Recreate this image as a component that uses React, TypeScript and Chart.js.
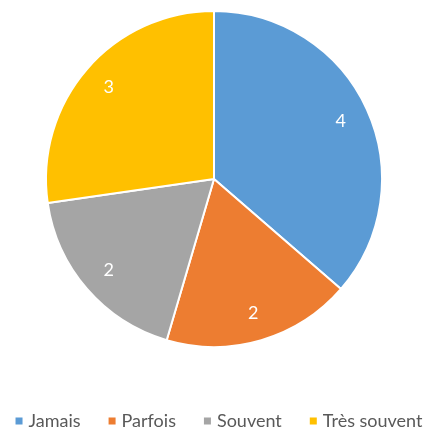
import React, { useEffect, useRef } from "react";
import { Chart, registerables } from "chart.js";

Chart.register(...registerables);

const categories = ["Jamais", "Parfois", "Souvent", "Très souvent"];
const values = [4, 2, 2, 3];
const colors = ["#5B9BD5", "#ED7D31", "#A5A5A5", "#FFC000"];

const FONT = "Lato, 'Open Sans', sans-serif";

const sliceLabels = {
  id: "sliceLabels",
  afterDatasetsDraw(chart: any) {
    const ctx = chart.ctx;
    const meta = chart.getDatasetMeta(0);
    ctx.save();
    ctx.fillStyle = "#ffffff";
    ctx.font = `18px ${FONT}`;
    ctx.textAlign = "center";
    ctx.textBaseline = "middle";
    meta.data.forEach((arc: any, i: number) => {
      const { x, y, startAngle, endAngle, outerRadius } = arc.getProps(
        ["x", "y", "startAngle", "endAngle", "outerRadius"],
        true
      );
      const mid = (startAngle + endAngle) / 2;
      const r = outerRadius * 0.83;
      ctx.fillText(String(chart.data.datasets[0].data[i]), x + Math.cos(mid) * r, y + Math.sin(mid) * r);
    });
    ctx.restore();
  },
};

const bottomLegend = {
  id: "bottomLegend",
  afterDraw(chart: any) {
    const ctx = chart.ctx;
    const labels: string[] = chart.data.labels;
    const bg: string[] = chart.data.datasets[0].backgroundColor;
    ctx.save();
    ctx.font = `18px ${FONT}`;
    ctx.textBaseline = "middle";
    const box = 7;
    const gap = 6;
    const spacing = 28;
    const widths = labels.map((l) => ctx.measureText(l).width);
    const total =
      widths.reduce((a, w) => a + box + gap + w, 0) + spacing * (labels.length - 1);
    let x = 219 - total / 2;
    const yc = 421;
    labels.forEach((l, i) => {
      ctx.fillStyle = bg[i];
      ctx.fillRect(x, yc - box / 2, box, box);
      x += box + gap;
      ctx.fillStyle = "#595959";
      ctx.fillText(l, x, yc);
      x += widths[i] + spacing;
    });
    ctx.restore();
  },
};

export default function App() {
  const ref = useRef<HTMLCanvasElement | null>(null);
  useEffect(() => {
    if (!ref.current) return;
    const chart = new Chart(ref.current, {
      type: "pie",
      data: {
        labels: categories,
        datasets: [
          {
            data: values,
            backgroundColor: colors,
            borderColor: "#ffffff",
            borderWidth: 2,
          },
        ],
      },
      options: {
        animation: false,
        responsive: false,
        layout: { padding: { top: 10, bottom: 83, left: 0, right: 0 } },
        plugins: {
          legend: { display: false },
          tooltip: { enabled: false },
        },
      },
      plugins: [sliceLabels, bottomLegend],
    });
    return () => chart.destroy();
  }, []);
  return (
    <div style={{ position: "absolute", left: 0, top: 0, width: 428, height: 431, background: "#fff" }}>
      <canvas ref={ref} width={428} height={431} style={{ width: 428, height: 431 }} />
    </div>
  );
}
